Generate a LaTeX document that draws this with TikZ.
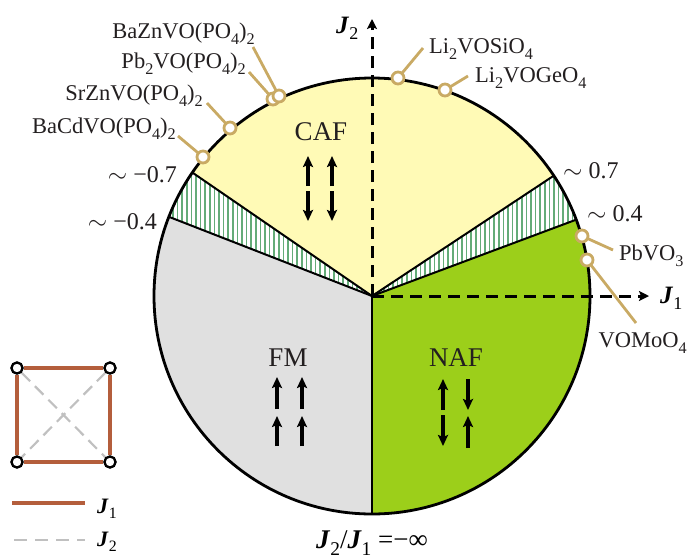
\documentclass[tikz,border=0pt]{standalone}
\usepackage{fontspec}
\setmainfont{Liberation Serif}
\usetikzlibrary{arrows.meta}
\definecolor{cafc}{RGB}{255,250,182}
\definecolor{nafc}{RGB}{156,207,26}
\definecolor{fmc}{RGB}{224,224,224}
\definecolor{hatc}{RGB}{100,172,120}
\definecolor{goldc}{RGB}{201,170,100}
\definecolor{brownc}{RGB}{180,94,60}
\definecolor{dashg}{RGB}{192,192,192}
\definecolor{txt}{RGB}{35,31,32}
\newcommand\sbs[1]{\raisebox{-0.27em}{\scalebox{0.72}{#1}}}
\newcommand\Jb[1]{\textbf{\textit{J}}\sbs{#1}}
\begin{document}
\begin{tikzpicture}[x=1pt,y=-1pt,
  lbl/.style={font=\fontsize{22.5}{26}\selectfont, text=txt, inner sep=0pt},
  rat/.style={font=\fontsize{24}{28}\selectfont, text=txt, inner sep=0pt},
  reg/.style={font=\fontsize{27}{30}\selectfont, text=txt, inner sep=0pt},
  jlbl/.style={font=\fontsize{25}{28}\selectfont, text=black, inner sep=0pt},
  leglbl/.style={font=\fontsize{22}{25}\selectfont, text=black, inner sep=0pt},
  spin/.style={line width=3.4pt, -{Stealth[length=11pt,width=10pt,inset=2pt]}},
  axis/.style={line width=3pt, dash pattern=on 12pt off 7pt, -{Stealth[length=10pt,width=10pt,inset=2pt]}},
  radial/.style={line width=2pt},
  leader/.style={goldc, line width=2.8pt},
  dot/.style={circle, draw=goldc, line width=2.8pt, fill=white, minimum size=12pt, inner sep=0pt},
  corner/.style={circle, draw=black, line width=2.2pt, fill=white, minimum size=11pt, inner sep=0pt},
  hatchl/.style={hatc, line width=1.6pt}
]
\useasboundingbox (0,0) rectangle (687,558);
\coordinate (C) at (372,296);
% sectors
\fill[fmc] (C) -- ++(-158.7:218) arc[start angle=-158.7, end angle=-270, radius=218] -- cycle;
\fill[nafc] (C) -- ++(90:218) arc[start angle=90, end angle=-20.5, radius=218] -- cycle;
\fill[cafc] (C) -- ++(-33.5:218) arc[start angle=-33.5, end angle=-145.5, radius=218] -- cycle;
% hatched sectors
\begin{scope}
  \clip (C) -- ++(-20.5:218) arc[start angle=-20.5, end angle=-33.5, radius=218] -- cycle;
  \foreach \x in {370,374.6,...,600} \draw[hatchl] (\x,100) -- (\x,300);
\end{scope}
\begin{scope}
  \clip (C) -- ++(-145.5:218) arc[start angle=-145.5, end angle=-158.7, radius=218] -- cycle;
  \foreach \x in {150,154.6,...,375} \draw[hatchl] (\x,100) -- (\x,300);
\end{scope}
% boundaries
\draw[radial] (C) -- ++(90:218);
\draw[radial] (C) -- ++(-20.5:218);
\draw[radial] (C) -- ++(-33.5:218);
\draw[radial] (C) -- ++(-145.5:218);
\draw[radial] (C) -- ++(-158.7:218);
\draw[line width=2.8pt] (C) circle[radius=218];
% axes
\coordinate (J2tip) at (372,19);
\coordinate (J1tip) at (649,296);
\draw[axis] (C) -- (J2tip);
\draw[axis] (C) -- (J1tip);
\node[jlbl, anchor=base west] (J2lab) at (336,33) {\Jb{2}};
\node[jlbl, anchor=base west] (J1lab) at (660,303) {\Jb{1}};
% region labels
\node[reg, anchor=base] (caf) at (321,140) {CAF};
\node[reg, anchor=base] (fm) at (288,366) {FM};
\node[reg, anchor=base] (naf) at (456,366) {NAF};
% spins CAF
\coordinate (c1a) at (308,186); \coordinate (c1b) at (308,156);
\coordinate (c2a) at (308,191); \coordinate (c2b) at (308,221);
\coordinate (c3a) at (332,186); \coordinate (c3b) at (332,156);
\coordinate (c4a) at (332,191); \coordinate (c4b) at (332,221);
\draw[spin] (c1a) -- (c1b); \draw[spin] (c2a) -- (c2b);
\draw[spin] (c3a) -- (c3b); \draw[spin] (c4a) -- (c4b);
% spins FM
\coordinate (f1a) at (277,409); \coordinate (f1b) at (277,377);
\coordinate (f2a) at (277,446); \coordinate (f2b) at (277,416);
\coordinate (f3a) at (302,409); \coordinate (f3b) at (302,377);
\coordinate (f4a) at (302,446); \coordinate (f4b) at (302,416);
\draw[spin] (f1a) -- (f1b); \draw[spin] (f2a) -- (f2b);
\draw[spin] (f3a) -- (f3b); \draw[spin] (f4a) -- (f4b);
% spins NAF
\coordinate (n1a) at (443,410); \coordinate (n1b) at (443,379);
\coordinate (n2a) at (443,415); \coordinate (n2b) at (443,446);
\coordinate (n3a) at (468,379); \coordinate (n3b) at (468,410);
\coordinate (n4a) at (468,448); \coordinate (n4b) at (468,416);
\draw[spin] (n1a) -- (n1b); \draw[spin] (n2a) -- (n2b);
\draw[spin] (n3a) -- (n3b); \draw[spin] (n4a) -- (n4b);
% compound leaders
\coordinate (e1) at (178,136); \coordinate (e2) at (207,103);
\coordinate (e3) at (249,72);  \coordinate (e4) at (253,47);
\coordinate (e5) at (423,48);  \coordinate (e6) at (468,76);
\coordinate (e7) at (613,250); \coordinate (e8) at (636,323);
\draw[leader] (203,157) -- (e1);
\draw[leader] (230,128) -- (e2);
\draw[leader] (273,99) -- (e3);
\draw[leader] (279,96) -- (e4);
\draw[leader] (398,78) -- (e5);
\draw[leader] (445,90) -- (e6);
\draw[leader] (582,236) -- (e7);
\draw[leader] (587,260) -- (e8);
\node[dot] (d1) at (203,157) {};
\node[dot] (d2) at (230,128) {};
\node[dot] (d3) at (273,99) {};
\node[dot] (d4) at (279,96) {};
\node[dot] (d5) at (398,78) {};
\node[dot] (d6) at (445,90) {};
\node[dot] (d7) at (582,236) {};
\node[dot] (d8) at (587,260) {};
% compound labels
\node[lbl, anchor=base east] (t1) at (176,133) {BaCdVO(PO\sbs{4})\sbs{2}};
\node[lbl, anchor=base east] (t2) at (203,100) {SrZnVO(PO\sbs{4})\sbs{2}};
\node[lbl, anchor=base east] (t3) at (246,68) {Pb\sbs{2}VO(PO\sbs{4})\sbs{2}};
\node[lbl, anchor=base east] (t4) at (255,38) {BaZnVO(PO\sbs{4})\sbs{2}};
\node[lbl, anchor=base west] (t5) at (429,53) {Li\sbs{2}VOSiO\sbs{4}};
\node[lbl, anchor=base west] (t6) at (475,82) {Li\sbs{2}VOGeO\sbs{4}};
\node[lbl, anchor=base west] (t7) at (619,260) {PbVO\sbs{3}};
\node[lbl, anchor=base east] (t8) at (687,347) {VOMoO\sbs{4}};
% ratio labels
\node[rat, anchor=base west] (r1) at (563,178) {\(\sim\) 0.7};
\node[rat, anchor=base west] (r2) at (587,221) {\(\sim\) 0.4};
\node[rat, anchor=base east] (r3) at (177,182) {\(\sim\) −0.7};
\node[rat, anchor=base east] (r4) at (157,229) {\(\sim\) −0.4};
% bottom label
\node[jlbl, font=\fontsize{27}{30}\selectfont, anchor=base] (bot) at (372,548) {\Jb{2}/\Jb{1} =−∞};
% legend square
\node[corner] (q1) at (17,368) {};
\node[corner] (q2) at (110,368) {};
\node[corner] (q3) at (17,462) {};
\node[corner] (q4) at (110,462) {};
\draw[dashg, line width=2.2pt, dash pattern=on 12pt off 7pt] (q1) -- (q4);
\draw[dashg, line width=2.2pt, dash pattern=on 12pt off 7pt] (q2) -- (q3);
\draw[brownc, line width=3.2pt] (q1) -- (q2) -- (q4) -- (q3) -- (q1);
\node[corner] at (q1) {};
\node[corner] at (q2) {};
\node[corner] at (q3) {};
\node[corner] at (q4) {};
% legend lines
\coordinate (la) at (12,503); \coordinate (lb) at (85,503);
\coordinate (lc) at (14,540); \coordinate (ld) at (85,540);
\draw[brownc, line width=3.2pt] (la) -- (lb);
\draw[dashg, line width=2.6pt, dash pattern=on 13pt off 8pt] (lc) -- (ld);
\node[leglbl, anchor=base west] (lj1) at (97,513) {\Jb{1}};
\node[leglbl, anchor=base west] (lj2) at (97,546) {\Jb{2}};
\end{tikzpicture}
\end{document}
